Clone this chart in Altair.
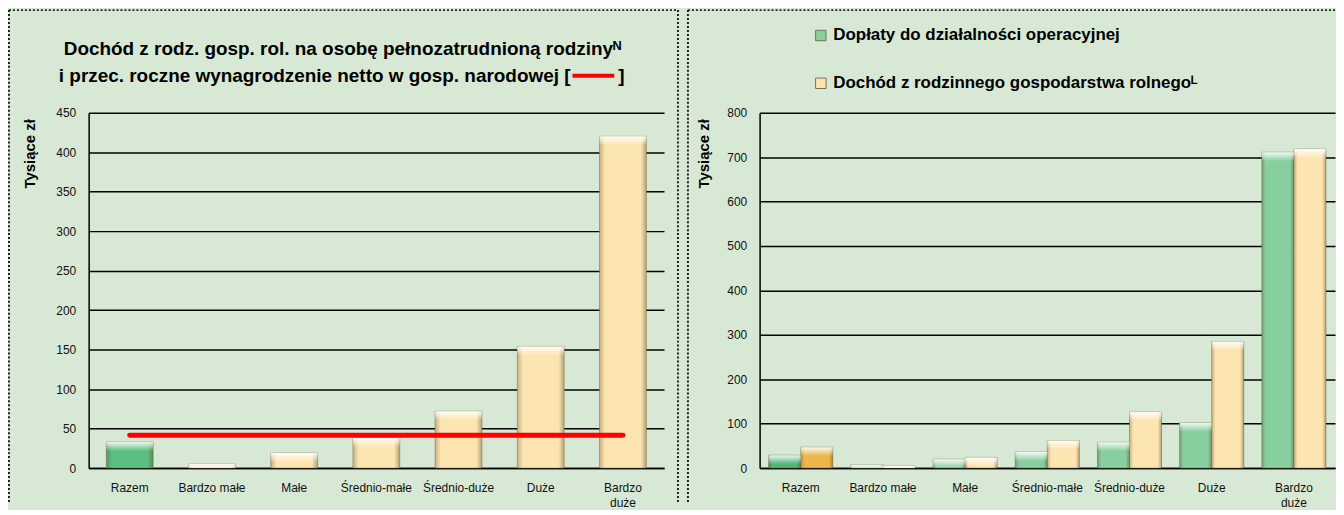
import altair as alt
import pandas as pd

# ---------------- data ----------------
categories = ["Razem", "Bardzo małe", "Małe", "Średnio-małe", "Średnio-duże", "Duże", "Bardzo duże"]
income_per_awu = [33, 5, 19, 38, 72, 154, 420]          # left panel bars (tys. zł)
net_wage_ends = ["Razem", "Bardzo duże"]                  # red line ends
net_wage = [41.6, 41.6]                                   # avg net wage (tys. zł)
subsidies = [29, 8, 20, 36, 58, 102, 711]                 # right panel, series 1
farm_income = [47, 5, 24, 62, 126, 285, 718]              # right panel, series 2
series_names = ["Dopłaty do działalności operacyjnej",
                "Dochód z rodzinnego gospodarstwa rolnegoᴸ"]
title_line1 = "Dochód z rodz. gosp. rol. na osobę pełnozatrudnioną rodzinyᴺ"
title_line2 = "i przec. roczne wynagrodzenie netto w gosp. narodowej ["
title_close = "]"
y_title = "Tysiące zł"
left_ticks = [0, 50, 100, 150, 200, 250, 300, 350, 400, 450]
right_ticks = [0, 100, 200, 300, 400, 500, 600, 700, 800]

# ---------------- style ----------------
FONT = "Liberation Sans Narrow, Arial Narrow, Liberation Sans, Arial, sans-serif"
BG = "#d7e9d5"
GREEN_L = "#5cbf81"
YELLOW = "#fde5b1"
GREEN_R = "#88cf9f"
GREEN_RZ = "#50b577"
GOLD = "#ebb749"
W, H = 578, 357

edge_grad = alt.LinearGradient(
    gradient="linear", x1=0, y1=0, x2=1, y2=0,
    stops=[alt.GradientStop(offset=0, color="rgba(70,55,20,0.30)"),
           alt.GradientStop(offset=0.12, color="rgba(70,55,20,0)"),
           alt.GradientStop(offset=0.88, color="rgba(70,55,20,0)"),
           alt.GradientStop(offset=1, color="rgba(70,55,20,0.38)")])
top_grad = alt.LinearGradient(
    gradient="linear", x1=0, y1=0, x2=0, y2=1,
    stops=[alt.GradientStop(offset=0, color="rgba(255,255,255,0.9)"),
           alt.GradientStop(offset=1, color="rgba(255,255,255,0)")])

x_axis = alt.Axis(title=None, labelAngle=0, ticks=False, labelPadding=15,
                  labelFontSize=12, labelLineHeight=15, labelBaseline="top",
                  labelExpr="datum.value == 'Bardzo duże' ? ['Bardzo', 'duże'] : datum.value")


def y_axis(ticks, tx):
    return alt.Axis(values=ticks, title=y_title, grid=True, ticks=False, labelPadding=13,
                    labelFontSize=12, labelOverlap=False, titleX=tx, titleY=6,
                    titleAngle=270, titleAlign="right", titleBaseline="middle",
                    titleFontSize=15)


def frame(lines):
    layers = []
    for (x1, x2, y1, y2) in lines:
        layers.append(alt.Chart(alt.Data(values=[{}])).mark_rule(
            color="#222", strokeWidth=2, strokeDash=[2, 2], clip=False).encode(
            x=alt.value(x1), x2=alt.value(x2), y=alt.value(y1), y2=alt.value(y2)))
    return layers


def text(t, x, y, align):
    return alt.Chart(alt.Data(values=[{}])).mark_text(
        text=t, font=FONT, fontSize=19, fontWeight="bold", color="#000",
        align=align, baseline="middle").encode(x=alt.value(x), y=alt.value(y))


# ---------------- left panel ----------------
left_df = pd.DataFrame({"cat": categories, "value": income_per_awu})
wage_df = pd.DataFrame({"cat": net_wage_ends, "value": net_wage})

xl = alt.X("cat:N", sort=categories, axis=x_axis,
           scale=alt.Scale(paddingInner=0.43, paddingOuter=0.215))
yl = alt.Y("value:Q", axis=y_axis(left_ticks, -59),
           scale=alt.Scale(domain=[0, 450], nice=False))

lbase = alt.Chart(left_df)
l_bars = lbase.mark_bar(stroke="#7a6a40", strokeOpacity=0.6, strokeWidth=0.8).encode(
    x=xl, y=yl,
    color=alt.condition("datum.cat == 'Razem'", alt.value(GREEN_L), alt.value(YELLOW)))
l_edge = lbase.mark_bar(fill=edge_grad).encode(x=xl, y=yl)
l_top = lbase.mark_bar(fill=top_grad, y2Offset=9, clip=True).encode(
    x=xl, y=yl, y2=alt.Y2("value:Q"))
l_line = alt.Chart(wage_df).mark_line(color="#ff0000", strokeWidth=5, strokeCap="round").encode(
    x=xl, y=yl)
l_dash = alt.Chart(alt.Data(values=[{}])).mark_rule(color="#ff0000", strokeWidth=4).encode(
    x=alt.value(486), x2=alt.value(528), y=alt.value(-37))

left = alt.layer(*frame([(-80, 592, -103, -103), (-80, -80, -103, 393), (592, 592, -103, 393)]),
                 text(title_line1, 255, -64, "center"),
                 text(title_line2, 484, -37, "right"),
                 text(title_close, 532, -37, "left"),
                 l_bars, l_edge, l_top, l_line, l_dash).properties(width=W, height=H)

# ---------------- right panel ----------------
rows = []
for i, c in enumerate(categories):
    rows.append({"cat": c, "series": series_names[0], "value": subsidies[i],
                 "key": series_names[0] if c != "Razem" else "Razem_1"})
    rows.append({"cat": c, "series": series_names[1], "value": farm_income[i],
                 "key": series_names[1] if c != "Razem" else "Razem_2"})
right_df = pd.DataFrame(rows)

xr = alt.X("cat:N", sort=categories, axis=x_axis,
           scale=alt.Scale(paddingInner=0.22, paddingOuter=0.11))
xo = alt.XOffset("series:N", sort=series_names)
yr = alt.Y("value:Q", axis=y_axis(right_ticks, -56),
           scale=alt.Scale(domain=[0, 800], nice=False))

rbase = alt.Chart(right_df)
r_bars = rbase.mark_bar(stroke="#6a6040", strokeOpacity=0.6, strokeWidth=0.8).encode(
    x=xr, xOffset=xo, y=yr,
    color=alt.Color("key:N",
                    scale=alt.Scale(domain=series_names + ["Razem_1", "Razem_2"],
                                    range=[GREEN_R, YELLOW, GREEN_RZ, GOLD]),
                    legend=alt.Legend(orient="none", legendX=53, legendY=-86,
                                      direction="vertical", title=None,
                                      values=series_names, symbolType="square",
                                      symbolSize=110, symbolStrokeColor="#7a7050",
                                      symbolStrokeWidth=1, labelFont=FONT,
                                      labelFontSize=17, labelFontWeight="bold",
                                      labelColor="#000", rowPadding=30,
                                      labelOffset=4, labelLimit=500)))
r_edge = rbase.mark_bar(fill=edge_grad).encode(x=xr, xOffset=xo, y=yr)
r_top = rbase.mark_bar(fill=top_grad, y2Offset=9, clip=True).encode(
    x=xr, xOffset=xo, y=yr, y2=alt.Y2("value:Q"))

right = alt.layer(*frame([(-72, 578, -103, -103), (-72, -72, -103, 393)]),
                  r_bars, r_edge, r_top).properties(width=W, height=H)

chart = alt.hconcat(left, right, spacing=8).resolve_legend(color="independent").properties(
    padding=0, background=BG
).configure_view(stroke=None, fill=BG).configure_axis(
    labelFont=FONT, titleFont=FONT, labelColor="#111", titleColor="#000",
    titleFontWeight="bold", gridColor="#000", gridWidth=1.5,
    domainColor="#000", domainWidth=1.5
)

chart.save("out.html", embed_options={"renderer": "svg", "actions": False})
